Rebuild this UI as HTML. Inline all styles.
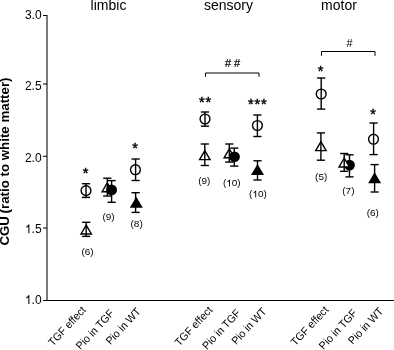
<!DOCTYPE html>
<html><head><meta charset="utf-8"><style>
html,body{margin:0;padding:0;background:#fff;}
svg{display:block;filter:grayscale(1);}
text{font-family:"Liberation Sans",sans-serif;fill:#000;}
</style></head><body>
<svg width="394" height="350" viewBox="0 0 394 350">
<rect width="394" height="350" fill="#fff"/>
<line x1="47" y1="15" x2="47" y2="300" stroke="#7a7a7a" stroke-width="2"/>
<line x1="43" y1="15.5" x2="47" y2="15.5" stroke="#000" stroke-width="1"/>
<line x1="43" y1="84" x2="47" y2="84" stroke="#000" stroke-width="1"/>
<line x1="43" y1="156.3" x2="47" y2="156.3" stroke="#000" stroke-width="1"/>
<line x1="43" y1="228" x2="47" y2="228" stroke="#000" stroke-width="1"/>
<line x1="43" y1="300.5" x2="47" y2="300.5" stroke="#000" stroke-width="1"/>
<line x1="43" y1="300.5" x2="394" y2="300.5" stroke="#000" stroke-width="1.2"/>
<text x="24.92" y="18.9" font-size="12">3.0</text>
<text x="24.92" y="90.15" font-size="12">2.5</text>
<text x="24.92" y="161.5" font-size="12">2.0</text>
<path d="M0.285,-0.716 L0.372,-0.716 L0.372,0 L0.285,0 L0.285,-0.56 C0.235,-0.515 0.175,-0.48 0.11,-0.455 L0.11,-0.54 C0.19,-0.575 0.25,-0.63 0.285,-0.716 Z" transform="translate(24.92,233.2) scale(12)" fill="#000"/><text x="31.59" y="233.2" font-size="12">.5</text>
<path d="M0.285,-0.716 L0.372,-0.716 L0.372,0 L0.285,0 L0.285,-0.56 C0.235,-0.515 0.175,-0.48 0.11,-0.455 L0.11,-0.54 C0.19,-0.575 0.25,-0.63 0.285,-0.716 Z" transform="translate(24.92,303.9) scale(12)" fill="#000"/><text x="31.59" y="303.9" font-size="12">.0</text>
<text x="0" y="0" font-size="13.3" font-weight="bold" text-anchor="start" transform="translate(9.2,245.6) rotate(-90)">CGU</text>
<text x="0" y="0" font-size="13.3" font-weight="bold" text-anchor="end" transform="translate(9.2,77.5) rotate(-90)">(ratio to white matter)</text>
<text x="108.5" y="10.1" font-size="14" text-anchor="middle" font-weight="normal" >limbic</text>
<text x="228.5" y="10.1" font-size="14" text-anchor="middle" font-weight="normal" >sensory</text>
<text x="339" y="10.1" font-size="14" text-anchor="middle" font-weight="normal" >motor</text>
<path d="M205.5,76.8 V73 H259 V76.8" fill="none" stroke="#000" stroke-width="1"/>
<text x="232.6" y="66.8" font-size="11" text-anchor="middle" font-weight="normal" stroke="#000" stroke-width="0.2">#&#160;#</text>
<path d="M321.5,55.8 V51.5 H375 V55.8" fill="none" stroke="#000" stroke-width="1"/>
<text x="349.6" y="46.7" font-size="11" text-anchor="middle" font-weight="normal" >#</text>
<path d="M107.3,182.80 L112.50,191.70 L102.10,191.70 Z" fill="#fff" stroke="#000" stroke-width="1.4" stroke-linejoin="miter"/><line x1="107.3" y1="178.2" x2="107.3" y2="196" stroke="#000" stroke-width="1.4"/><line x1="103.20" y1="178.2" x2="111.40" y2="178.2" stroke="#000" stroke-width="1.4"/><line x1="103.20" y1="196" x2="111.40" y2="196" stroke="#000" stroke-width="1.4"/>
<line x1="111.6" y1="180.6" x2="111.6" y2="202.3" stroke="#000" stroke-width="1.4"/><line x1="107.50" y1="180.6" x2="115.70" y2="180.6" stroke="#000" stroke-width="1.4"/><line x1="107.50" y1="202.3" x2="115.70" y2="202.3" stroke="#000" stroke-width="1.4"/><circle cx="111.6" cy="189.9" r="5.4" fill="#000"/>
<circle cx="86" cy="190.6" r="4.9" fill="#fff" stroke="#000" stroke-width="1.4"/><line x1="86" y1="183.7" x2="86" y2="197.4" stroke="#000" stroke-width="1.4"/><line x1="81.90" y1="183.7" x2="90.10" y2="183.7" stroke="#000" stroke-width="1.4"/><line x1="81.90" y1="197.4" x2="90.10" y2="197.4" stroke="#000" stroke-width="1.4"/>
<path d="M86.2,225.10 L91.40,234.00 L81.00,234.00 Z" fill="#fff" stroke="#000" stroke-width="1.4" stroke-linejoin="miter"/><line x1="86.2" y1="222.3" x2="86.2" y2="236.4" stroke="#000" stroke-width="1.4"/><line x1="82.10" y1="222.3" x2="90.30" y2="222.3" stroke="#000" stroke-width="1.4"/><line x1="82.10" y1="236.4" x2="90.30" y2="236.4" stroke="#000" stroke-width="1.4"/>
<circle cx="135.4" cy="169.7" r="4.9" fill="#fff" stroke="#000" stroke-width="1.4"/><line x1="135.6" y1="159" x2="135.6" y2="180.5" stroke="#000" stroke-width="1.4"/><line x1="131.50" y1="159" x2="139.70" y2="159" stroke="#000" stroke-width="1.4"/><line x1="131.50" y1="180.5" x2="139.70" y2="180.5" stroke="#000" stroke-width="1.4"/>
<line x1="135.6" y1="192.7" x2="135.6" y2="212.4" stroke="#000" stroke-width="1.4"/><line x1="131.50" y1="192.7" x2="139.70" y2="192.7" stroke="#000" stroke-width="1.4"/><line x1="131.50" y1="212.4" x2="139.70" y2="212.4" stroke="#000" stroke-width="1.4"/><path d="M136.3,196.80 L142.80,207.70 L129.80,207.70 Z" fill="#000"/>
<path d="M229.3,148.90 L234.50,157.80 L224.10,157.80 Z" fill="#fff" stroke="#000" stroke-width="1.4" stroke-linejoin="miter"/><line x1="229.3" y1="144" x2="229.3" y2="162.1" stroke="#000" stroke-width="1.4"/><line x1="225.20" y1="144" x2="233.40" y2="144" stroke="#000" stroke-width="1.4"/><line x1="225.20" y1="162.1" x2="233.40" y2="162.1" stroke="#000" stroke-width="1.4"/>
<line x1="234.3" y1="148.1" x2="234.3" y2="166.1" stroke="#000" stroke-width="1.4"/><line x1="230.20" y1="148.1" x2="238.40" y2="148.1" stroke="#000" stroke-width="1.4"/><line x1="230.20" y1="166.1" x2="238.40" y2="166.1" stroke="#000" stroke-width="1.4"/><circle cx="234.5" cy="156.8" r="5.4" fill="#000"/>
<circle cx="205" cy="119" r="4.9" fill="#fff" stroke="#000" stroke-width="1.4"/><line x1="205" y1="112" x2="205" y2="126.2" stroke="#000" stroke-width="1.4"/><line x1="200.90" y1="112" x2="209.10" y2="112" stroke="#000" stroke-width="1.4"/><line x1="200.90" y1="126.2" x2="209.10" y2="126.2" stroke="#000" stroke-width="1.4"/>
<path d="M204.8,150.70 L210.00,159.60 L199.60,159.60 Z" fill="#fff" stroke="#000" stroke-width="1.4" stroke-linejoin="miter"/><line x1="204.8" y1="144" x2="204.8" y2="165.5" stroke="#000" stroke-width="1.4"/><line x1="200.70" y1="144" x2="208.90" y2="144" stroke="#000" stroke-width="1.4"/><line x1="200.70" y1="165.5" x2="208.90" y2="165.5" stroke="#000" stroke-width="1.4"/>
<circle cx="257.4" cy="125.5" r="4.9" fill="#fff" stroke="#000" stroke-width="1.4"/><line x1="257.4" y1="115" x2="257.4" y2="136.5" stroke="#000" stroke-width="1.4"/><line x1="253.30" y1="115" x2="261.50" y2="115" stroke="#000" stroke-width="1.4"/><line x1="253.30" y1="136.5" x2="261.50" y2="136.5" stroke="#000" stroke-width="1.4"/>
<line x1="257.5" y1="160.8" x2="257.5" y2="180" stroke="#000" stroke-width="1.4"/><line x1="253.40" y1="160.8" x2="261.60" y2="160.8" stroke="#000" stroke-width="1.4"/><line x1="253.40" y1="180" x2="261.60" y2="180" stroke="#000" stroke-width="1.4"/><path d="M257.5,164.10 L264.00,175.00 L251.00,175.00 Z" fill="#000"/>
<line x1="349.5" y1="154.8" x2="349.5" y2="176.9" stroke="#000" stroke-width="1.4"/><line x1="345.40" y1="154.8" x2="353.60" y2="154.8" stroke="#000" stroke-width="1.4"/><line x1="345.40" y1="176.9" x2="353.60" y2="176.9" stroke="#000" stroke-width="1.4"/><circle cx="349.5" cy="165.1" r="5.4" fill="#000"/>
<path d="M344.2,158.10 L349.40,167.00 L339.00,167.00 Z" fill="#fff" stroke="#000" stroke-width="1.4" stroke-linejoin="miter"/><line x1="344.2" y1="153.5" x2="344.2" y2="171.3" stroke="#000" stroke-width="1.4"/><line x1="340.10" y1="153.5" x2="348.30" y2="153.5" stroke="#000" stroke-width="1.4"/><line x1="340.10" y1="171.3" x2="348.30" y2="171.3" stroke="#000" stroke-width="1.4"/>
<circle cx="321.2" cy="94" r="4.9" fill="#fff" stroke="#000" stroke-width="1.4"/><line x1="321.2" y1="78" x2="321.2" y2="109.1" stroke="#000" stroke-width="1.4"/><line x1="317.10" y1="78" x2="325.30" y2="78" stroke="#000" stroke-width="1.4"/><line x1="317.10" y1="109.1" x2="325.30" y2="109.1" stroke="#000" stroke-width="1.4"/>
<path d="M320.9,141.70 L326.10,150.60 L315.70,150.60 Z" fill="#fff" stroke="#000" stroke-width="1.4" stroke-linejoin="miter"/><line x1="320.9" y1="132.9" x2="320.9" y2="160.2" stroke="#000" stroke-width="1.4"/><line x1="316.80" y1="132.9" x2="325.00" y2="132.9" stroke="#000" stroke-width="1.4"/><line x1="316.80" y1="160.2" x2="325.00" y2="160.2" stroke="#000" stroke-width="1.4"/>
<circle cx="373.5" cy="139.2" r="4.9" fill="#fff" stroke="#000" stroke-width="1.4"/><line x1="373.6" y1="123" x2="373.6" y2="154.6" stroke="#000" stroke-width="1.4"/><line x1="369.50" y1="123" x2="377.70" y2="123" stroke="#000" stroke-width="1.4"/><line x1="369.50" y1="154.6" x2="377.70" y2="154.6" stroke="#000" stroke-width="1.4"/>
<line x1="374.6" y1="164.6" x2="374.6" y2="192" stroke="#000" stroke-width="1.4"/><line x1="370.50" y1="164.6" x2="378.70" y2="164.6" stroke="#000" stroke-width="1.4"/><line x1="370.50" y1="192" x2="378.70" y2="192" stroke="#000" stroke-width="1.4"/><path d="M374.6,172.30 L381.10,183.20 L368.10,183.20 Z" fill="#000"/>
<text x="86.0" y="177.67" font-size="14.5" text-anchor="middle" font-weight="normal" stroke="#000" stroke-width="0.45" letter-spacing="0.9">*</text>
<text x="135.6" y="152.67" font-size="14.5" text-anchor="middle" font-weight="normal" stroke="#000" stroke-width="0.45" letter-spacing="0.9">*</text>
<text x="205.45" y="106.78" font-size="14.5" text-anchor="middle" font-weight="normal" stroke="#000" stroke-width="0.45" letter-spacing="0.9">**</text>
<text x="257.85" y="109.38" font-size="14.5" text-anchor="middle" font-weight="normal" stroke="#000" stroke-width="0.45" letter-spacing="0.9">***</text>
<text x="321.1" y="76.38" font-size="14.5" text-anchor="middle" font-weight="normal" stroke="#000" stroke-width="0.45" letter-spacing="0.9">*</text>
<text x="373.4" y="119.17" font-size="14.5" text-anchor="middle" font-weight="normal" stroke="#000" stroke-width="0.45" letter-spacing="0.9">*</text>
<g transform="translate(87.5,254.85) scale(1.09,1)"><text x="-5.62" y="0" font-size="9.2">(6)</text></g>
<g transform="translate(108.5,220.15) scale(1.09,1)"><text x="-5.62" y="0" font-size="9.2">(9)</text></g>
<g transform="translate(136.6,227.25) scale(1.09,1)"><text x="-5.62" y="0" font-size="9.2">(8)</text></g>
<g transform="translate(204.3,183.65) scale(1.09,1)"><text x="-5.62" y="0" font-size="9.2">(9)</text></g>
<g transform="translate(231.8,186.45) scale(1.09,1)"><text x="-8.18" y="0" font-size="9.2">(</text><path d="M0.285,-0.716 L0.372,-0.716 L0.372,0 L0.285,0 L0.285,-0.56 C0.235,-0.515 0.175,-0.48 0.11,-0.455 L0.11,-0.54 C0.19,-0.575 0.25,-0.63 0.285,-0.716 Z" transform="translate(-5.12,0) scale(9.2)" fill="#000"/><text x="0.00" y="0" font-size="9.2">0)</text></g>
<g transform="translate(258,197.45) scale(1.09,1)"><text x="-8.18" y="0" font-size="9.2">(</text><path d="M0.285,-0.716 L0.372,-0.716 L0.372,0 L0.285,0 L0.285,-0.56 C0.235,-0.515 0.175,-0.48 0.11,-0.455 L0.11,-0.54 C0.19,-0.575 0.25,-0.63 0.285,-0.716 Z" transform="translate(-5.12,0) scale(9.2)" fill="#000"/><text x="0.00" y="0" font-size="9.2">0)</text></g>
<g transform="translate(321.2,180.25) scale(1.09,1)"><text x="-5.62" y="0" font-size="9.2">(5)</text></g>
<g transform="translate(348.4,193.65) scale(1.09,1)"><text x="-5.62" y="0" font-size="9.2">(7)</text></g>
<g transform="translate(372.8,216.15) scale(1.09,1)"><text x="-5.62" y="0" font-size="9.2">(6)</text></g>
<text x="0" y="0" font-size="11" text-anchor="end" transform="translate(86.60,310.5) rotate(-47) scale(0.955,1)">TGF effect</text>
<text x="0" y="0" font-size="11" text-anchor="end" transform="translate(114.70,313.8) rotate(-47) scale(0.955,1)">Pio in TGF</text>
<text x="0" y="0" font-size="11" text-anchor="end" transform="translate(141.50,312.0) rotate(-47) scale(0.955,1)">Pio in WT</text>
<text x="0" y="0" font-size="11" text-anchor="end" transform="translate(213.20,310.6) rotate(-47) scale(0.955,1)">TGF effect</text>
<text x="0" y="0" font-size="11" text-anchor="end" transform="translate(241.10,313.6) rotate(-47) scale(0.955,1)">Pio in TGF</text>
<text x="0" y="0" font-size="11" text-anchor="end" transform="translate(267.20,312.0) rotate(-47) scale(0.955,1)">Pio in WT</text>
<text x="0" y="0" font-size="11" text-anchor="end" transform="translate(329.20,310.4) rotate(-47) scale(0.955,1)">TGF effect</text>
<text x="0" y="0" font-size="11" text-anchor="end" transform="translate(357.70,313.6) rotate(-47) scale(0.955,1)">Pio in TGF</text>
<text x="0" y="0" font-size="11" text-anchor="end" transform="translate(383.90,311.8) rotate(-47) scale(0.955,1)">Pio in WT</text>
</svg>
</body></html>
